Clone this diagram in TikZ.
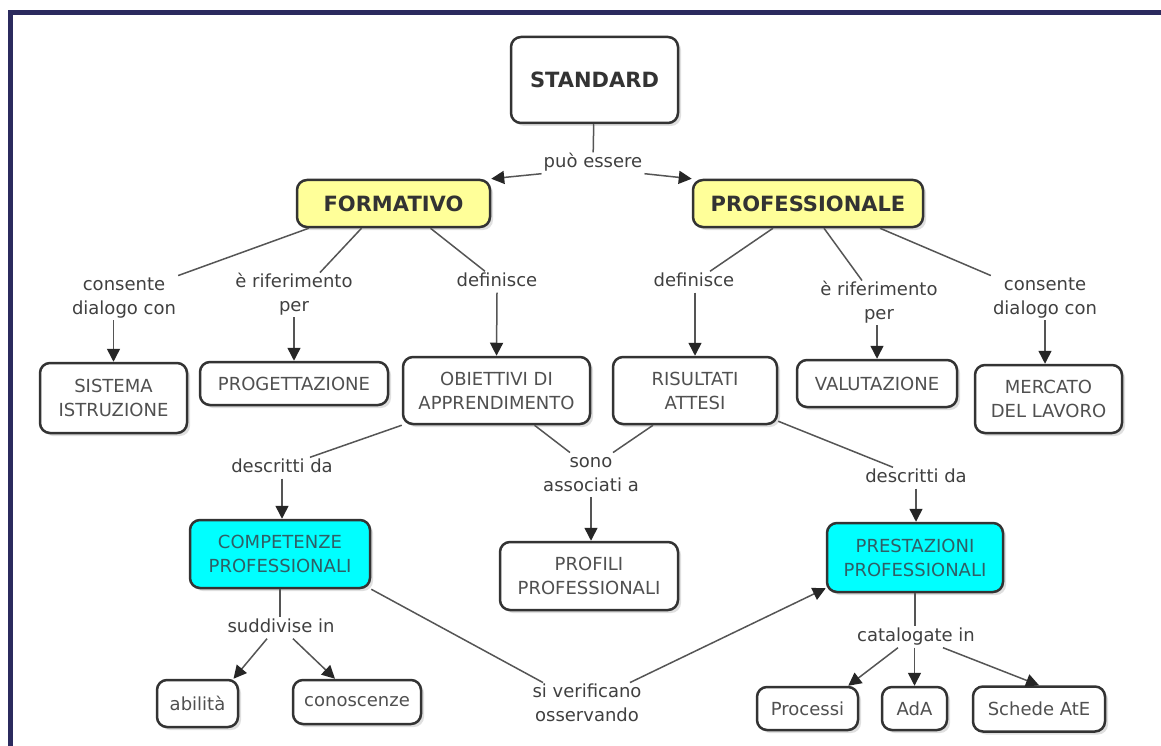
\documentclass[tikz,border=0pt]{standalone}
\usepackage{fontspec}
\setmainfont{DejaVu Sans}
\usetikzlibrary{arrows.meta,shadows,calc}
\definecolor{navyframe}{HTML}{2B2A5E}
\definecolor{boxline}{HTML}{333333}
\definecolor{boxtext}{HTML}{505050}
\definecolor{labtext}{HTML}{404040}
\definecolor{connline}{HTML}{555555}
\definecolor{yelfill}{HTML}{FFFF99}
\definecolor{cyanfill}{HTML}{00FFFF}
\definecolor{cyantext}{HTML}{2F5F66}
\begin{document}
\begin{tikzpicture}[x=1pt,y=-1pt,
  box/.style={draw=boxline, line width=2.5pt, rounded corners=10pt, fill=white,
    text=boxtext, font=\fontsize{18}{24}\selectfont, align=center, inner sep=0pt,
    drop shadow={shadow xshift=3pt, shadow yshift=-3pt, opacity=0.25}},
  sz/.style 2 args={minimum width=#1pt, minimum height=#2pt},
  titlebox/.style={box, font=\fontsize{21}{26}\bfseries\selectfont, text=boxline},
  yelbox/.style={titlebox, fill=yelfill},
  cyanbox/.style={box, fill=cyanfill, text=cyantext},
  lab/.style={font=\fontsize{18}{23.5}\selectfont, text=labtext, align=center,
    inner sep=2pt, text height=13pt, text depth=4pt},
  labtwo/.style={lab, text height=36.5pt},
  conn/.style={draw=connline, line width=1.5pt},
  arr/.style={conn, -{Triangle[length=13pt,width=13pt,fill=black!85,color=black!85]}}
]
\useasboundingbox (0,0) rectangle (1161,746);
\fill[white] (0,0) rectangle (1161,746);
\draw[navyframe, line width=5pt] (10.5,746) -- (10.5,12.5) -- (1161,12.5);

% boxes
\node[titlebox, sz={167}{86}] (std) at (594.5,80) {STANDARD};
\node[yelbox, sz={193}{47}] (form) at (393.5,203.5) {FORMATIVO};
\node[yelbox, sz={230}{47}] (prof) at (808,203.5) {PROFESSIONALE};

\node[box, sz={147}{70}] (sis) at (113.5,398) {SISTEMA\\ISTRUZIONE};
\node[box, sz={188}{43}] (prog) at (294,383.5) {PROGETTAZIONE};
\node[box, sz={187}{67}] (obi) at (496.5,390.5) {OBIETTIVI DI\\APPRENDIMENTO};
\node[box, sz={164}{67}] (ris) at (695,390.5) {RISULTATI\\ATTESI};
\node[box, sz={160}{47}] (val) at (877,383.5) {VALUTAZIONE};
\node[box, sz={147}{68}] (mer) at (1048.5,399) {MERCATO\\DEL LAVORO};

\node[cyanbox, sz={180}{68}] (comp) at (280,554) {COMPETENZE\\PROFESSIONALI};
\node[box, sz={178}{68}] (pro) at (589,576) {PROFILI\\PROFESSIONALI};
\node[cyanbox, sz={176}{69}] (pre) at (915,557.5) {PRESTAZIONI\\PROFESSIONALI};

\node[box, sz={81}{47}] (abi) at (197.5,703.5) {abilità};
\node[box, sz={128}{44}] (con) at (357,702) {conoscenze};
\node[box, sz={101}{43}] (proc) at (807.5,708.5) {Processi};
\node[box, sz={65}{43}] (ada) at (914.5,708.5) {AdA};
\node[box, sz={132}{45}] (sch) at (1039,709) {Schede AtE};

% labels
\node[lab] (pe) at (593,163) {può essere};
\node[labtwo] (lcL) at (124,298) {consente\\dialogo con};
\node[labtwo] (lrL) at (294,295) {è riferimento\\per};
\node[lab] (ldL) at (497,282) {definisce};
\node[lab] (ldR) at (694,282) {definisce};
\node[labtwo] (lrR) at (879,303) {è riferimento\\per};
\node[labtwo] (lcR) at (1045,298) {consente\\dialogo con};
\node[lab] (ldsL) at (282,468) {descritti da};
\node[labtwo] (lsa) at (591,475) {sono\\associati a};
\node[lab] (ldsR) at (916,478) {descritti da};
\node[lab] (lsd) at (281,628) {suddivise in};
\node[labtwo] (lsv) at (587,705) {si verificano\\osservando};
\node[lab] (lcat) at (916,637) {catalogate in};

% connectors
\draw[conn] (std) -- (pe);
\draw[arr] (pe.south west) -- (form.north east);
\draw[arr] (pe.south east) -- (prof.north west);

\draw[conn] ([xshift=13pt]form.south west) -- (lcL.north east);
\draw[conn] ([xshift=-32pt]form.south) -- ([xshift=26pt]lrL.north);
\draw[conn] ([xshift=37pt]form.south) -- ([xshift=-12pt]ldL.north);
\draw[conn] ([xshift=-35pt]prof.south) -- ([xshift=16pt]ldR.north);
\draw[conn] ([xshift=16pt]prof.south) -- ([xshift=-17pt]lrR.north);
\draw[conn] ([xshift=72pt]prof.south) -- (lcR.north west);

\draw[arr] (lcL.south -| sis.north) -- (sis.north);
\draw[arr] (lrL.south) -- (prog.north);
\draw[arr] (ldL.south) -- (obi.north);
\draw[arr] (ldR.south -| ris.north) -- (ris.north);
\draw[arr] (lrR.south -| val.north) -- (val.north);
\draw[arr] (lcR.south) -- (lcR.south |- mer.north);

\draw[conn] (obi.south west) -- ([xshift=28pt]ldsL.north);
\draw[arr] (ldsL.south) -- (ldsL.south |- comp.north);
\draw[conn] ([xshift=38pt]obi.south) -- ([xshift=-21pt]lsa.north);
\draw[conn] ([xshift=-42pt]ris.south) -- ([xshift=22pt]lsa.north);
\draw[arr] (lsa.south) -- (lsa.south |- pro.north);
\draw[conn] ([yshift=4pt]ris.south east) -- ([xshift=-23pt]ldsR.north);
\draw[arr] (ldsR.south) -- (ldsR.south |- pre.north);

\draw[conn] (comp.south) -- (comp.south |- lsd.north);
\draw[arr] ([xshift=-14pt]lsd.south) -- ([xshift=36pt]abi.north);
\draw[arr] ([xshift=12pt]lsd.south) -- ([xshift=-22pt]con.north);

\draw[conn] (comp.south east) -- ([xshift=-44pt]lsv.north);
\draw[arr] ([xshift=43pt]lsv.north) -- ([yshift=5pt]pre.south west);

\draw[conn] (pre.south) -- (pre.south |- lcat.north);
\draw[arr] ([xshift=-18pt]lcat.south) -- ([xshift=-11pt]proc.north east);
\draw[arr] (lcat.south -| ada.north) -- (ada.north);
\draw[arr] ([xshift=27pt]lcat.south) -- (sch.north);
\end{tikzpicture}
\end{document}
